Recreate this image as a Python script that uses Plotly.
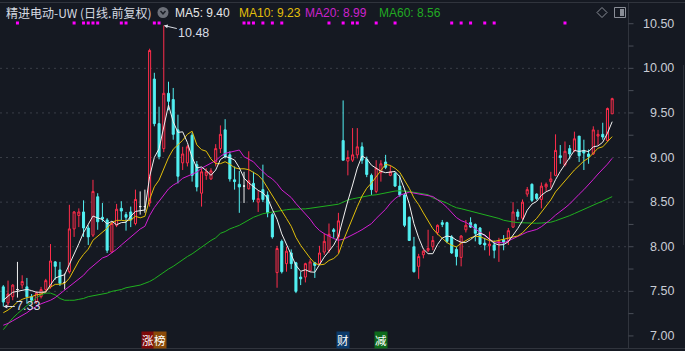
import plotly.graph_objects as go

# ---------------- data ----------------
opens = [7.55, 7.37, 7.44, 7.52, 7.57, 7.55, 7.44, 7.38, 7.44, 7.52,
         7.55, 7.83, 7.74, 7.60, 7.72, 8.20, 8.35, 8.39, 8.21, 8.13,
         8.56, 8.33, 8.30, 7.94, 8.24, 8.43, 8.36, 8.39, 8.26, 8.45,
         8.45, 8.49, 9.88, 9.38, 9.10, 9.72, 9.65, 9.31, 8.94, 8.94,
         9.25, 8.92, 8.60, 8.80, 8.76, 8.95, 9.10, 9.31, 9.03, 8.75,
         8.70, 8.68, 8.65, 8.71, 8.50, 8.64, 8.58, 8.36, 7.71, 8.06,
         7.81, 7.93, 7.82, 7.66, 7.66, 7.73, 7.82, 7.81, 7.94, 7.96,
         8.19, 8.11, 9.19, 8.96, 8.97, 9.03, 9.12, 8.98, 8.80, 8.62,
         8.83, 8.95, 8.80, 8.82, 8.68, 8.58, 8.33, 8.00, 7.78, 7.91,
         7.96, 8.00, 8.16, 8.27, 8.27, 8.11, 7.97, 7.88, 8.19, 8.27,
         8.25, 8.21, 8.04, 8.01, 8.02, 8.04, 8.08, 8.07, 8.22, 8.39,
         8.32, 8.59, 8.70, 8.59, 8.53, 8.67, 8.73, 8.80, 9.02, 8.92,
         9.10, 9.08, 9.24, 9.08, 9.04, 9.04, 9.24, 9.26, 9.19, 9.49]
highs = [7.57, 7.62, 7.58, 7.83, 7.68, 7.65, 7.47, 7.50, 7.55, 7.64,
         8.03, 7.84, 7.83, 7.70, 8.47, 8.40, 8.43, 8.52, 8.24, 8.75,
         8.60, 8.49, 8.32, 8.28, 8.48, 8.51, 8.39, 8.45, 8.64, 8.62,
         8.64, 10.22, 9.95, 9.57, 10.48, 9.85, 9.78, 9.48, 9.12, 9.14,
         9.28, 8.96, 8.88, 8.88, 8.88, 9.15, 9.36, 9.43, 9.07, 8.90,
         8.85, 8.84, 9.07, 8.84, 8.63, 8.92, 8.62, 8.38, 8.01, 8.08,
         8.00, 7.97, 7.83, 7.72, 7.82, 7.86, 7.83, 8.01, 8.15, 8.26,
         8.21, 8.38, 9.64, 9.08, 9.33, 9.33, 9.17, 9.01, 8.82, 8.97,
         8.97, 9.03, 8.91, 8.84, 8.80, 8.60, 8.34, 8.11, 7.92, 7.97,
         8.19, 8.12, 8.25, 8.30, 8.28, 8.13, 8.00, 8.13, 8.30, 8.33,
         8.26, 8.22, 8.10, 8.17, 8.07, 8.10, 8.13, 8.21, 8.50, 8.42,
         8.53, 8.67, 8.71, 8.60, 8.72, 8.72, 8.84, 9.26, 9.14, 9.18,
         9.14, 9.29, 9.24, 9.20, 9.09, 9.35, 9.31, 9.39, 9.56, 9.67]
lows = [7.33, 7.34, 7.40, 7.43, 7.53, 7.36, 7.38, 7.36, 7.42, 7.48,
        7.53, 7.63, 7.56, 7.52, 7.70, 8.11, 8.22, 8.11, 8.02, 8.11,
        8.19, 8.28, 7.93, 7.93, 8.22, 8.30, 8.18, 8.22, 8.24, 8.36,
        8.38, 8.45, 9.35, 8.98, 9.06, 9.53, 9.20, 8.71, 8.86, 8.90,
        8.73, 8.62, 8.45, 8.75, 8.75, 8.90, 9.05, 8.99, 8.73, 8.64,
        8.38, 8.49, 8.64, 8.50, 8.39, 8.50, 8.33, 8.09, 7.54, 7.70,
        7.72, 7.75, 7.48, 7.57, 7.60, 7.72, 7.65, 7.80, 7.91, 7.93,
        8.10, 7.93, 8.97, 8.80, 8.95, 8.99, 8.93, 8.78, 8.58, 8.60,
        8.73, 8.87, 8.79, 8.67, 8.56, 8.22, 8.07, 7.71, 7.64, 7.87,
        7.94, 7.96, 8.13, 8.22, 8.04, 7.92, 7.79, 7.78, 8.16, 8.21,
        8.06, 8.02, 7.96, 7.90, 7.87, 7.83, 7.96, 8.02, 8.21, 8.30,
        8.30, 8.56, 8.50, 8.52, 8.43, 8.62, 8.66, 8.79, 8.93, 8.90,
        8.98, 9.06, 8.95, 8.86, 8.93, 9.03, 9.14, 9.20, 9.18, 9.49]
closes = [7.38, 7.47, 7.57, 7.52, 7.61, 7.44, 7.40, 7.48, 7.52, 7.62,
          7.84, 7.78, 7.59, 7.60, 8.20, 8.39, 8.39, 8.21, 8.11, 8.62,
          8.28, 8.31, 7.96, 8.26, 8.42, 8.40, 8.33, 8.30, 8.53, 8.45,
          8.45, 10.20, 9.38, 9.01, 9.72, 9.63, 9.26, 8.79, 9.04, 9.12,
          8.80, 8.67, 8.84, 8.84, 8.85, 9.10, 9.26, 9.01, 8.76, 8.73,
          8.67, 8.68, 8.74, 8.53, 8.54, 8.53, 8.38, 8.11, 7.98, 7.72,
          7.95, 7.81, 7.50, 7.64, 7.81, 7.83, 7.79, 7.93, 8.06, 8.14,
          8.17, 8.29, 8.97, 9.00, 9.03, 9.12, 8.97, 8.81, 8.64, 8.88,
          8.93, 8.89, 8.84, 8.68, 8.58, 8.24, 8.07, 7.72, 7.89, 7.95,
          7.98, 8.07, 8.24, 8.25, 8.06, 7.93, 7.89, 8.12, 8.24, 8.22,
          8.15, 8.03, 8.02, 8.03, 7.96, 8.06, 8.05, 8.18, 8.39, 8.34,
          8.50, 8.64, 8.52, 8.54, 8.68, 8.70, 8.76, 9.08, 9.00, 9.07,
          9.04, 9.21, 9.02, 9.05, 9.01, 9.31, 9.26, 9.23, 9.55, 9.66]

ma5_head = [7.40, 7.45, 7.49, 7.50]
ma10_head = [7.26, 7.29, 7.33, 7.38, 7.41, 7.43, 7.44, 7.46, 7.47]
ma20_head = [7.12, 7.14, 7.17, 7.20, 7.23, 7.26, 7.30, 7.33, 7.36, 7.38,
             7.40, 7.43, 7.47, 7.51, 7.55, 7.59, 7.63, 7.68, 7.74]
ma60_head = [7.07, 7.14, 7.20, 7.25, 7.30, 7.34, 7.38, 7.43, 7.46, 7.48,
             7.48, 7.46, 7.42, 7.40, 7.40, 7.40, 7.41, 7.42, 7.44, 7.45,
             7.46, 7.47, 7.48, 7.50, 7.51, 7.52, 7.54, 7.55, 7.56, 7.57,
             7.59, 7.61, 7.64, 7.68, 7.71, 7.75, 7.78, 7.82, 7.85, 7.89,
             7.92, 7.96, 8.00, 8.04, 8.07, 8.10, 8.15, 8.17, 8.20, 8.22,
             8.24, 8.27, 8.30, 8.33, 8.35, 8.37, 8.38, 8.39, 8.40]

signal_days = [3, 15, 17, 18, 19, 20, 25, 26, 32, 33, 51, 52, 53, 55, 57, 59,
               69, 72, 74, 75, 79, 83, 95, 97, 99, 102, 104, 119]
event_days = [31, 31, 72, 80]
event_texts = ["涨", "榜", "财", "减"]
tick_values = [7.0, 7.5, 8.0, 8.5, 9.0, 9.5, 10.0, 10.5]
tick_labels = ["7.00", "7.50", "8.00", "8.50", "9.00", "9.50", "10.00", "10.50"]
grid_values = [7.5, 8.0, 8.5, 9.0, 9.5, 10.0]
title_text = "精进电动-UW (日线.前复权)"


def moving_average(vals, n, head):
    out = list(head)
    for i in range(len(head), len(vals)):
        out.append(sum(vals[i - n + 1:i + 1]) / n)
    return out


ma5 = moving_average(closes, 5, ma5_head)
ma10 = moving_average(closes, 10, ma10_head)
ma20 = moving_average(closes, 20, ma20_head)
ma60 = moving_average(closes, 60, ma60_head)

# ---------------- styling / layout ----------------
W, H = 685, 351
PW = 628  # plot width in px
BG = "#151922"
RED = "#ff2d4b"
CYAN = "#52f0f2"
WHITE = "#f0f0f0"
GOLD = "#e2bf0a"
MAG = "#d41ed4"
GRN = "#1fb01f"
TXT = "#c9cdd5"
YLO, YHI = 6.831, 10.766


def px(x):
    return x / PW


def py(y):
    return 1 - y / H


def price_at(ypix):
    return YHI - ypix / H * (YHI - YLO)


n = len(closes)
idx = list(range(n))
groups = {
    "up": [i for i in idx if closes[i] > opens[i]],
    "down": [i for i in idx if closes[i] < opens[i]],
    "flat": [i for i in idx if closes[i] == opens[i]],
}

fig = go.Figure()


def add_candles(ids, inc_line, inc_fill, dec_line, dec_fill):
    if not ids:
        return
    fig.add_trace(go.Candlestick(
        x=ids,
        open=[opens[i] for i in ids], high=[highs[i] for i in ids],
        low=[lows[i] for i in ids], close=[closes[i] for i in ids],
        increasing=dict(line=dict(color=inc_line, width=1), fillcolor=inc_fill),
        decreasing=dict(line=dict(color=dec_line, width=1), fillcolor=dec_fill),
        whiskerwidth=0, showlegend=False, hoverinfo="skip"))


add_candles(groups["up"], RED, BG, RED, BG)
add_candles(groups["down"], CYAN, CYAN, CYAN, CYAN)
add_candles(groups["flat"], WHITE, WHITE, WHITE, WHITE)

for vals, col in [(ma60, GRN), (ma20, MAG), (ma10, GOLD), (ma5, WHITE)]:
    fig.add_trace(go.Scatter(x=idx, y=vals, mode="lines",
                             line=dict(color=col, width=1), showlegend=False,
                             hoverinfo="skip"))

fig.add_trace(go.Scatter(x=signal_days, y=[price_at(23)] * len(signal_days),
                         mode="markers", showlegend=False, hoverinfo="skip",
                         marker=dict(symbol="square", size=3, color="#ff00ff",
                                     line=dict(width=0))))

shapes = []
for g in grid_values:
    shapes.append(dict(type="line", xref="paper", yref="y", x0=0, x1=1, y0=g, y1=g,
                       line=dict(color="#3a3e48", width=1, dash="2px,4px"), layer="below"))
# frame lines
shapes.append(dict(type="line", xref="paper", yref="paper", x0=0, x1=W / PW,
                   y0=py(2.5), y1=py(2.5), line=dict(color="#30343d", width=1)))
shapes.append(dict(type="line", xref="paper", yref="paper", x0=0, x1=W / PW,
                   y0=py(348.5), y1=py(348.5), line=dict(color="#30343d", width=1)))
shapes.append(dict(type="line", xref="paper", yref="paper", x0=px(628.5), x1=px(628.5),
                   y0=py(3), y1=py(348), line=dict(color="#30343d", width=1)))
shapes.append(dict(type="line", xref="paper", yref="paper", x0=px(683.5), x1=px(683.5),
                   y0=py(65), y1=py(245), line=dict(color="#2c3039", width=1)))
# axis ticks every 0.25
v = 7.0
while v <= 10.5001:
    shapes.append(dict(type="line", xref="paper", yref="y", x0=px(628.5), x1=px(633.5),
                       y0=v, y1=v, line=dict(color="#4a4e58", width=1)))
    v += 0.25
# header icons
shapes.append(dict(type="circle", xref="paper", yref="paper",
                   x0=px(157.5), x1=px(168.5), y0=py(18), y1=py(7),
                   fillcolor="#6c7079", line=dict(width=0)))
shapes.append(dict(type="path", xref="paper", yref="paper",
                   path=f"M {px(160.5)} {py(11)} L {px(163)} {py(13.8)} L {px(165.5)} {py(11)}",
                   line=dict(color="#1b1f27", width=1.5)))
shapes.append(dict(type="path", xref="paper", yref="paper",
                   path=(f"M {px(602)} {py(7.5)} L {px(607)} {py(12.5)} L {px(602)} {py(17.5)} "
                         f"L {px(597)} {py(12.5)} Z"),
                   line=dict(color="#8a8e97", width=1)))
shapes.append(dict(type="rect", xref="paper", yref="paper",
                   x0=px(614.5), x1=px(625.5), y0=py(17.5), y1=py(7.5),
                   line=dict(color="#8a8e97", width=1)))
shapes.append(dict(type="rect", xref="paper", yref="paper",
                   x0=px(620), x1=px(624), y0=py(16), y1=py(9),
                   fillcolor="#8a8e97", line=dict(width=0)))

annotations = []
for val, lab in zip(tick_values, tick_labels):
    annotations.append(dict(x=px(676), xref="paper", y=val, yref="y", text=lab,
                            showarrow=False, xanchor="right", yanchor="middle",
                            font=dict(family="Liberation Sans, Arial", size=12.5, color=TXT)))

annotations.append(dict(x=px(4), y=py(12.5), xref="paper", yref="paper", text=title_text,
                        showarrow=False, xanchor="left", yanchor="middle",
                        font=dict(family="Noto Sans CJK SC", size=12, color="#d5d9e1")))
for label, series, col, xpos in [("MA5", ma5, "#e8e8e8", 173), ("MA10", ma10, GOLD, 237),
                                 ("MA20", ma20, "#cc22cc", 303), ("MA60", ma60, "#22aa22", 377)]:
    annotations.append(dict(x=px(xpos), y=py(12.5), xref="paper", yref="paper",
                            text=f"{label}: {series[-1]:.2f}", showarrow=False,
                            xanchor="left", yanchor="middle",
                            font=dict(family="Liberation Sans, Arial", size=12, color=col)))

hi_i = max(idx, key=lambda i: highs[i])
lo_i = min(idx, key=lambda i: lows[i])
annotations.append(dict(x=hi_i, y=highs[hi_i], xref="x", yref="y", text=f"{highs[hi_i]:.2f}",
                        showarrow=True, ax=30, ay=7, arrowhead=2, arrowsize=0.8, arrowwidth=1,
                        arrowcolor="#d8dce4",
                        font=dict(family="Liberation Sans, Arial", size=12.5, color="#d8dce4")))
annotations.append(dict(x=lo_i, y=lows[lo_i], xref="x", yref="y", text=f"{lows[lo_i]:.2f}",
                        showarrow=True, ax=25, ay=0, arrowhead=2, arrowsize=0.8, arrowwidth=1,
                        arrowcolor="#d8dce4",
                        font=dict(family="Liberation Sans, Arial", size=12.5, color="#d8dce4")))

ev_styles = [("#7e0a0a", -1.5), ("#8a4a08", 10.8), ("#0c3a6a", 0), ("#0e6a1c", 0)]
for d, t, (bgc, shift) in zip(event_days, event_texts, ev_styles):
    annotations.append(dict(x=d, xref="x", y=py(340), yref="paper", text=t, showarrow=False,
                            xshift=shift, xanchor="center", yanchor="middle",
                            bgcolor=bgc, borderpad=0,
                            font=dict(family="Noto Sans CJK SC", size=11.5, color="#ffffff")))

fig.update_layout(
    width=W, height=H,
    margin=dict(l=0, r=W - PW, t=0, b=0),
    paper_bgcolor=BG, plot_bgcolor=BG,
    showlegend=False,
    boxgap=0.38,
    xaxis=dict(range=[-3.3 / 4.72, (PW - 3.3) / 4.72], showgrid=False, zeroline=False,
               showticklabels=False, rangeslider=dict(visible=False), fixedrange=True),
    yaxis=dict(range=[YLO, YHI], side="right", showgrid=False, zeroline=False,
               showticklabels=False, ticks="", fixedrange=True),
    shapes=shapes,
    annotations=annotations,
)

fig.write_html("out.html")
